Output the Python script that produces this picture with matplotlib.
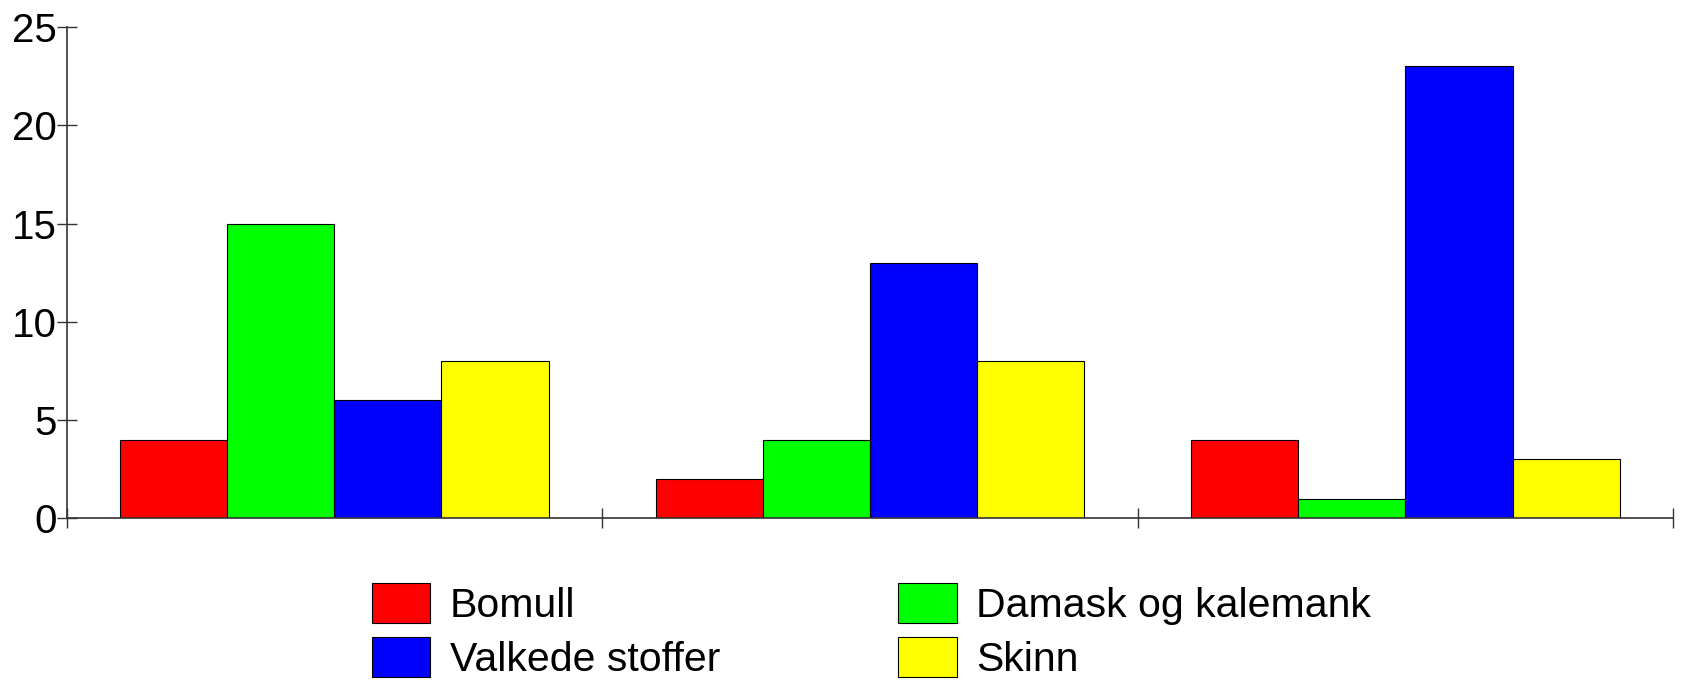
import numpy as np
import matplotlib
matplotlib.use("Agg")
import matplotlib.pyplot as plt

plt.rcParams['font.family'] = ['Liberation Sans', 'DejaVu Sans']

# Data (3 unlabeled groups)
series = ['Bomull', 'Damask og kalemank', 'Valkede stoffer', 'Skinn']
colors = ['#ff0000', '#00ff00', '#0000ff', '#ffff00']
bomull = [4, 2, 4]
damask = [15, 4, 1]
valkede = [6, 13, 23]
skinn = [8, 8, 3]
yticks = [0, 5, 10, 15, 20, 25]

values = [bomull, damask, valkede, skinn]
n_groups = len(bomull)

fig = plt.figure(figsize=(16.85, 6.8), dpi=100)
ax = fig.add_axes([0.0395, 0.238, 0.9535, 0.722])

bar_w = 0.2
x = np.arange(n_groups)
bars = []
for j, (vals, col) in enumerate(zip(values, colors)):
    b = ax.bar(x + 0.1 + bar_w * j + bar_w / 2, vals, width=bar_w,
               color=col, edgecolor='black', linewidth=0.8, label=series[j])
    bars.append(b)

ax.set_xlim(0, n_groups)
ax.set_ylim(0, 25)
ax.set_yticks(yticks)
ax.set_xticks(np.arange(n_groups + 1))
ax.set_xticklabels([])
for s in ['top', 'right']:
    ax.spines[s].set_visible(False)
for s in ['left', 'bottom']:
    ax.spines[s].set_color('#333333')
    ax.spines[s].set_linewidth(1.2)
ax.tick_params(axis='both', direction='inout', length=14, width=1.0,
               color='#333333', labelsize=29, pad=0)

# legend in the order it reads: row 1 Bomull, Damask; row 2 Valkede, Skinn
order = [0, 2, 1, 3]
fig.legend([bars[i] for i in order], [series[i] for i in order],
           loc='upper left', bbox_to_anchor=(0.2206, 0.142), ncol=2,
           frameon=False, fontsize=29.5, borderpad=0, borderaxespad=0,
           handlelength=1.43, handleheight=1.12, handletextpad=0.48,
           columnspacing=4.34, labelspacing=0.28)

fig.savefig('out.png', dpi=100)
